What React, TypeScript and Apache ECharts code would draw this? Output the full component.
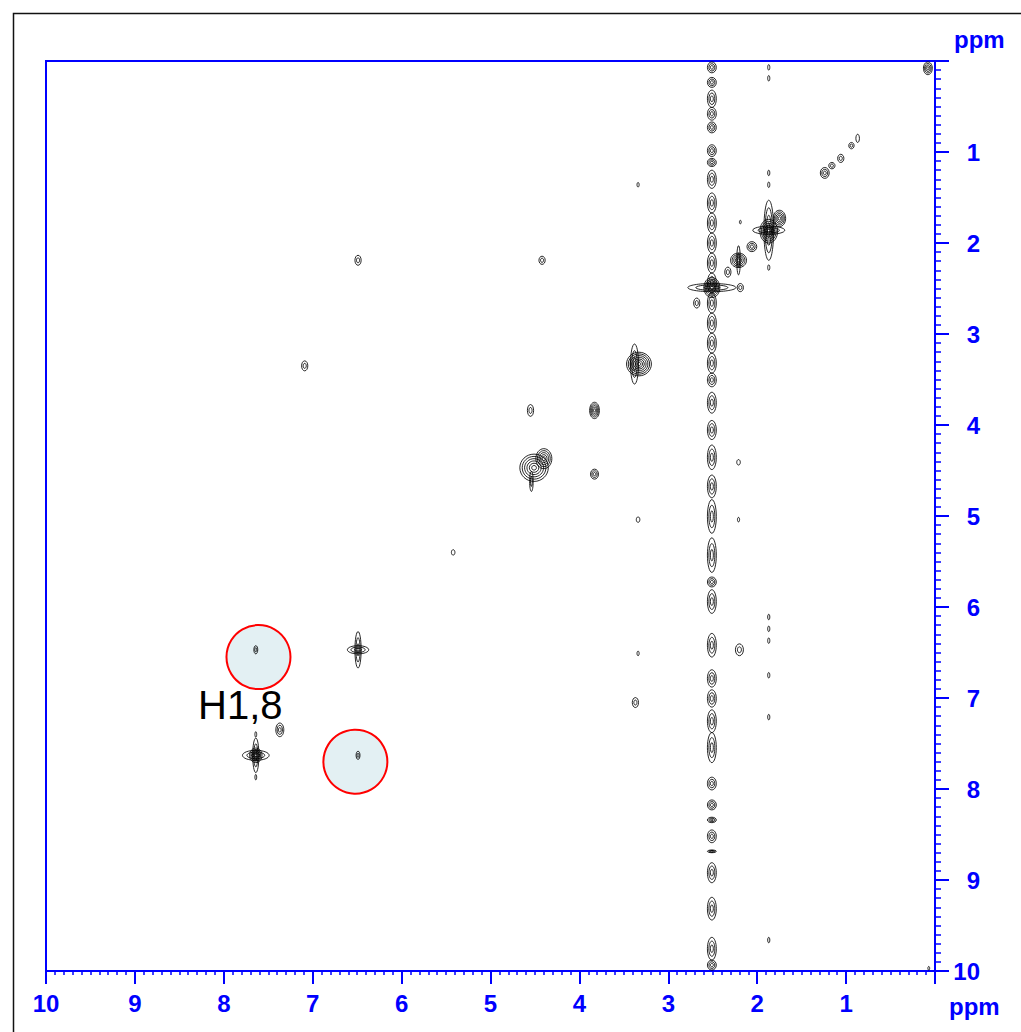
import React, { useEffect, useRef } from 'react';
import * as echarts from 'echarts';

// ---- Cross peaks (ppm): F2 (x), F1 (y), contour half-extent x/y (ppm), number of contour levels
const peakX = [0.08, 0.87, 0.94, 1.06, 1.16, 1.24, 1.87, 1.87, 1.87, 1.75, 2.06, 2.21, 2.21, 2.33, 2.51, 2.51, 2.19, 2.68,
  3.33, 3.38, 4.55, 3.83, 4.51, 4.40, 4.54, 3.83, 7.09, 6.49, 4.42, 3.34, 3.34, 2.21, 3.34, 3.37, 5.42, 2.20, 2.21, 2.19, 0.07,
  1.87, 1.87, 1.87, 1.87, 1.87, 1.87, 1.87, 1.87, 1.87, 1.87, 1.87,
  6.49, 6.49, 7.64, 7.64, 7.64, 7.64, 7.64, 7.37, 7.64, 6.49];
const peakY = [0.08, 0.85, 0.93, 1.07, 1.15, 1.23, 1.86, 1.86, 1.87, 1.73, 2.04, 2.19, 2.19, 2.32, 2.49, 2.49, 2.49, 2.66,
  3.33, 3.33, 3.84, 3.84, 4.47, 4.37, 4.62, 4.54, 3.35, 2.19, 2.19, 1.36, 5.04, 5.04, 6.51, 7.05, 5.40, 6.47, 4.41, 1.77, 9.97,
  0.07, 0.19, 1.23, 1.36, 2.27, 6.11, 6.24, 6.37, 6.75, 7.21, 9.66,
  6.47, 6.47, 7.63, 7.63, 7.63, 7.40, 7.87, 7.35, 6.47, 7.63];
const peakHalfX = [0.05, 0.02, 0.03, 0.035, 0.035, 0.05, 0.18, 0.055, 0.10, 0.07, 0.055, 0.09, 0.02, 0.035, 0.27, 0.09, 0.035, 0.035,
  0.14, 0.045, 0.035, 0.055, 0.16, 0.09, 0.02, 0.045, 0.035, 0.035, 0.035, 0.012, 0.02, 0.012, 0.012, 0.035, 0.02, 0.045, 0.02, 0.01, 0.01,
  0.012, 0.012, 0.012, 0.012, 0.012, 0.012, 0.012, 0.012, 0.012, 0.012, 0.012,
  0.12, 0.035, 0.15, 0.035, 0.07, 0.01, 0.01, 0.045, 0.022, 0.022];
const peakHalfY = [0.07, 0.045, 0.035, 0.045, 0.035, 0.06, 0.045, 0.33, 0.13, 0.09, 0.055, 0.08, 0.16, 0.055, 0.045, 0.11, 0.045, 0.055,
  0.13, 0.22, 0.065, 0.09, 0.15, 0.11, 0.11, 0.055, 0.055, 0.055, 0.045, 0.025, 0.03, 0.025, 0.025, 0.055, 0.03, 0.065, 0.03, 0.02, 0.02,
  0.03, 0.03, 0.03, 0.03, 0.03, 0.03, 0.03, 0.03, 0.03, 0.03, 0.03,
  0.045, 0.2, 0.055, 0.19, 0.08, 0.03, 0.03, 0.075, 0.045, 0.045];
const peakLevels = [4, 1, 2, 2, 2, 3, 3, 4, 6, 5, 3, 5, 2, 2, 3, 6, 2, 2,
  7, 3, 2, 5, 6, 5, 2, 3, 2, 2, 2, 1, 1, 1, 1, 2, 1, 2, 1, 1, 1,
  1, 1, 1, 1, 1, 1, 1, 1, 1, 1, 1,
  3, 3, 3, 3, 5, 1, 1, 3, 2, 2];

// ---- t1-noise ridge at the DMSO shift (ppm)
const STREAK_X = 2.51;
const STREAK_HALF_X = 0.05;
const streakY = [0.07, 0.235, 0.415, 0.58, 0.73, 0.985, 1.115, 1.30, 1.56, 1.78, 2.00, 2.22, 2.44, 2.66, 2.88, 3.10, 3.32, 3.505,
  3.755, 4.055, 4.355, 4.675, 5.005, 5.43, 5.725, 5.94, 6.42, 6.785, 7.005, 7.255, 7.545, 7.94, 8.175, 8.34, 8.52, 8.685, 8.92,
  9.315, 9.755, 9.935];
const streakHalfY = [0.06, 0.055, 0.095, 0.07, 0.06, 0.065, 0.045, 0.10, 0.11, 0.11, 0.11, 0.11, 0.11, 0.11, 0.11, 0.11, 0.11, 0.075,
  0.115, 0.105, 0.135, 0.125, 0.185, 0.19, 0.055, 0.13, 0.13, 0.095, 0.095, 0.125, 0.165, 0.07, 0.055, 0.03, 0.07, 0.015, 0.11,
  0.125, 0.125, 0.055];

// ---- highlighted cross peaks (H1,8)
const circleX = [7.61, 6.52];
const circleY = [6.55, 7.70];
const annotationText = 'H1,8';

// ---- axes
const axisMin = 0;
const axisMax = 10;
const axisInterval = 1;
const axisUnit = 'ppm';

const BLUE = '#0000ff';
const FONT = '"Liberation Sans", Arial, Helvetica, sans-serif';

function renderContour(params: any, api: any) {
  const c = api.coord([api.value(0), api.value(1)]);
  const s = api.size([api.value(2), api.value(3)]);
  const rx = Math.abs(s[0]);
  const ry = Math.abs(s[1]);
  const n = api.value(4);
  const children: any[] = [];
  for (let k = n; k >= 1; k--) {
    const f = k / n;
    children.push({
      type: 'ellipse',
      shape: { cx: c[0], cy: c[1], rx: Math.max(rx * f, 0.8), ry: Math.max(ry * f, 0.8) },
      style: { fill: 'none', stroke: '#000', lineWidth: 0.85 },
    });
  }
  return { type: 'group', children };
}

export default function App() {
  const ref = useRef<HTMLDivElement>(null);
  useEffect(() => {
    const chart = echarts.init(ref.current!, null, { renderer: 'svg' });
    const peakData = peakX.map((x, i) => [x, peakY[i], peakHalfX[i], peakHalfY[i], peakLevels[i]]);
    const streakData = streakY.map((y, i) => [STREAK_X, y, STREAK_HALF_X, streakHalfY[i], 3]);
    const circleData = circleX.map((x, i) => [x, circleY[i]]);
    const hideZero = (v: number) => (v === 0 ? '' : String(v));

    const option: any = {
      animation: false,
      backgroundColor: '#ffffff',
      grid: { left: 46, top: 61, right: 86, bottom: 61, show: true, borderColor: BLUE, borderWidth: 2 },
      xAxis: {
        type: 'value', min: axisMin, max: axisMax, interval: axisInterval, inverse: true, position: 'bottom',
        splitLine: { show: false },
        axisLine: { onZero: false, lineStyle: { color: BLUE, width: 2 } },
        axisTick: { length: 13, lineStyle: { color: BLUE, width: 2 } },
        minorTick: { show: true, splitNumber: 10, length: 4, lineStyle: { color: BLUE, width: 1.5 } },
        minorSplitLine: { show: false },
        axisLabel: { color: BLUE, fontWeight: 'bold', fontSize: 24, fontFamily: FONT, margin: 20, formatter: hideZero },
      },
      yAxis: {
        type: 'value', min: axisMin, max: axisMax, interval: axisInterval, inverse: true, position: 'right',
        splitLine: { show: false },
        axisLine: { onZero: false, lineStyle: { color: BLUE, width: 2 } },
        axisTick: { length: 14, lineStyle: { color: BLUE, width: 2 } },
        minorTick: { show: true, splitNumber: 10, length: 6, lineStyle: { color: BLUE, width: 1.5 } },
        minorSplitLine: { show: false },
        axisLabel: { color: BLUE, fontWeight: 'bold', fontSize: 24, fontFamily: FONT, margin: 45, align: 'right', formatter: hideZero },
      },
      graphic: [
        { type: 'rect', left: 11, top: 11, z: -10, silent: true,
          shape: { x: 0, y: 0, width: 1030, height: 1040 },
          style: { fill: 'none', stroke: '#111', lineWidth: 1.5 } },
        { type: 'text', z: 10, style: { x: 954, y: 39, text: axisUnit, fill: BLUE, font: `bold 24px ${FONT}`, align: 'left', verticalAlign: 'middle' } },
        { type: 'text', z: 10, style: { x: 949, y: 1006, text: axisUnit, fill: BLUE, font: `bold 24px ${FONT}`, align: 'left', verticalAlign: 'middle' } },
        { type: 'text', z: 10, style: { x: 198, y: 705, text: annotationText, fill: '#000', font: `40px ${FONT}`, align: 'left', verticalAlign: 'middle' } },
      ],
      series: [
        {
          type: 'scatter', data: circleData, symbol: 'circle', symbolSize: 64, z: 1,
          itemStyle: { color: '#e3f0f3', borderColor: '#ff0000', borderWidth: 2, opacity: 1 },
          emphasis: { disabled: true },
        },
        { type: 'custom', data: streakData, renderItem: renderContour, encode: { x: 0, y: 1 }, z: 3, clip: true },
        { type: 'custom', data: peakData, renderItem: renderContour, encode: { x: 0, y: 1 }, z: 3, clip: true },
      ],
    };
    chart.setOption(option);
    return () => chart.dispose();
  }, []);
  return <div ref={ref} style={{ position: 'fixed', left: 0, top: 0, width: 1021, height: 1032 }} />;
}
